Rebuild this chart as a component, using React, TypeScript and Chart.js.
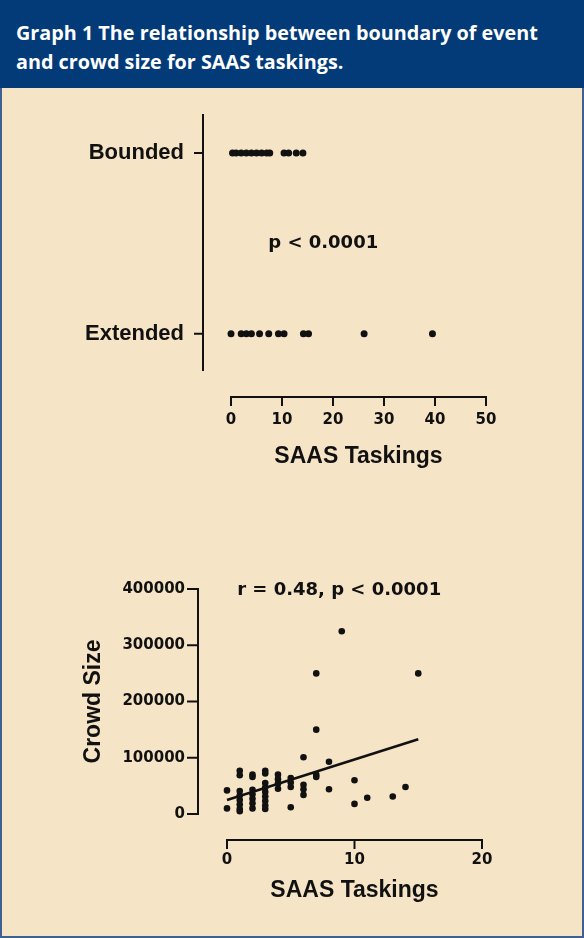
import React, { useEffect, useRef } from 'react';
import { Chart, registerables } from 'chart.js';

Chart.register(...registerables);

// ---------- data ----------
const HEADER_LINES = [
  'Graph 1 The relationship between boundary of event',
  'and crowd size for SAAS taskings.',
];

// top chart: y index 0 = Extended, 1 = Bounded
const CATEGORY_LABELS = ['Extended', 'Bounded'];
const BOUNDED_TASKINGS = [0.3, 1, 2, 3, 4, 5, 6, 7, 7.6, 10.4, 11.3, 12.8, 14.1];
const EXTENDED_TASKINGS = [0, 2, 3, 4, 5.6, 7.4, 9.3, 10.4, 14.2, 15.2, 26.1, 39.5];
const TOP_X_TICKS = [0, 10, 20, 30, 40, 50];
const TOP_ANNOTATION = 'p < 0.0001';

// bottom chart
const SCATTER_TASKINGS = [
  0, 0,
  1, 1, 1, 1, 1, 1, 1, 1,
  2, 2, 2, 2, 2, 2, 2,
  3, 3, 3, 3, 3, 3, 3, 3, 3,
  4, 4, 4, 4,
  5, 5, 5, 5,
  6, 6, 6, 6,
  7, 7, 7, 7,
  8, 8,
  9,
  10, 10,
  11,
  13,
  14,
  15,
];
const SCATTER_CROWD = [
  42000, 10000,
  77000, 69000, 41000, 33000, 25000, 17000, 9000, 5000,
  70000, 66000, 43000, 35000, 27000, 19000, 10000,
  77000, 72000, 55000, 47000, 39000, 31000, 23000, 15000, 9000,
  70000, 62000, 54000, 45000,
  64000, 56000, 48000, 12000,
  101000, 52000, 44000, 34000,
  250000, 150000, 70000, 66000,
  93000, 44000,
  325000,
  60000, 18000,
  29000,
  31000,
  48000,
  250000,
];
const REGRESSION_X = [0, 15];
const REGRESSION_Y = [25000, 133000];
const BOTTOM_X_TICKS = [0, 10, 20];
const BOTTOM_Y_TICKS = [0, 100000, 200000, 300000, 400000];
const BOTTOM_ANNOTATION = 'r = 0.48, p < 0.0001';

// ---------- styling ----------
const INK = '#111111';
const NAVY = '#033a78';
const BEIGE = '#f6e4c7';
const FRAME = '#3d6192';
const TICK_FONT = { family: '"DejaVu Sans"', weight: 'bold' as const, size: 15 };
const LABEL_FONT = { family: '"Liberation Sans", Arial', weight: 'bold' as const, size: 22 };
const TITLE_FONT = { family: '"Liberation Sans", Arial', weight: 'bold' as const, size: 23 };

// Prism-style detached axes drawn from the scales
const offsetAxes = {
  id: 'offsetAxes',
  afterDraw(chart: any, _args: any, opts: any) {
    const { ctx, chartArea, scales } = chart;
    const x = scales.x;
    const y = scales.y;
    ctx.save();
    ctx.strokeStyle = INK;
    ctx.lineWidth = 2;
    ctx.lineCap = 'square';
    const ax = chartArea.left - opts.yGap;
    ctx.beginPath();
    ctx.moveTo(ax, y.getPixelForValue(y.max));
    ctx.lineTo(ax, y.getPixelForValue(y.min));
    for (const t of y.ticks) {
      const py = y.getPixelForValue(t.value);
      ctx.moveTo(ax - opts.yTick, py);
      ctx.lineTo(ax, py);
    }
    ctx.stroke();
    const ay = chartArea.bottom + opts.xGap;
    ctx.beginPath();
    ctx.moveTo(x.getPixelForValue(x.min), ay);
    ctx.lineTo(x.getPixelForValue(x.max), ay);
    for (const t of x.ticks) {
      const px = x.getPixelForValue(t.value);
      ctx.moveTo(px, ay);
      ctx.lineTo(px, ay + opts.xTick);
    }
    ctx.stroke();
    ctx.restore();
  },
};

const annotation = {
  id: 'annotation',
  afterDatasetsDraw(chart: any, _args: any, opts: any) {
    const { ctx, scales } = chart;
    ctx.save();
    ctx.font = opts.font;
    ctx.fillStyle = INK;
    ctx.textAlign = 'left';
    ctx.textBaseline = 'middle';
    ctx.fillText(opts.text, scales.x.getPixelForValue(opts.x), scales.y.getPixelForValue(opts.y));
    ctx.restore();
  },
};

function ChartCanvas({ config, top, height }: { config: () => any; top: number; height: number }) {
  const ref = useRef<HTMLCanvasElement | null>(null);
  useEffect(() => {
    if (!ref.current) return;
    const chart = new Chart(ref.current, config());
    return () => chart.destroy();
  }, []);
  return (
    <canvas
      ref={ref}
      width={584}
      height={height}
      style={{ position: 'absolute', left: 0, top, width: 584, height }}
    />
  );
}

const pointStyle = {
  showLine: false,
  pointRadius: 3.5,
  pointHoverRadius: 3.5,
  pointBackgroundColor: INK,
  pointBorderWidth: 0,
  clip: false as const,
};

const fixWidth = (w: number) => (s: any) => {
  s.width = w;
  s.paddingTop = 0;
  s.paddingBottom = 0;
};
const fixHeight = (h: number) => (s: any) => {
  s.height = h;
  s.paddingLeft = 0;
  s.paddingRight = 0;
};

function topConfig() {
  return {
    type: 'scatter',
    data: {
      datasets: [
        { ...pointStyle, data: BOUNDED_TASKINGS.map((v) => ({ x: v, y: 1 })) },
        { ...pointStyle, data: EXTENDED_TASKINGS.map((v) => ({ x: v, y: 0 })) },
      ],
    },
    plugins: [offsetAxes, annotation],
    options: {
      responsive: false,
      animation: false,
      devicePixelRatio: 1,
      events: [],
      layout: { padding: { left: 0, right: 98, top: 27, bottom: 18 } },
      plugins: {
        legend: { display: false },
        tooltip: { enabled: false },
        offsetAxes: { yGap: 28, yTick: 8, xGap: 27, xTick: 8 },
        annotation: { text: TOP_ANNOTATION, x: 7.3, y: 0.5, font: 'bold 18px "DejaVu Sans"' },
      },
      scales: {
        x: {
          type: 'linear',
          min: 0,
          max: 50,
          afterBuildTicks: (s: any) => {
            s.ticks = TOP_X_TICKS.map((v) => ({ value: v }));
          },
          grid: { display: false, drawTicks: false },
          border: { display: false },
          ticks: { padding: 41, font: TICK_FONT, color: INK, autoSkip: false, maxRotation: 0 },
          title: { display: true, text: 'SAAS Taskings', font: TITLE_FONT, color: INK, padding: { top: 0, bottom: 0 } },
          afterFit: fixHeight(100),
        },
        y: {
          type: 'linear',
          min: -0.2,
          max: 1.21,
          afterBuildTicks: (s: any) => {
            s.ticks = CATEGORY_LABELS.map((_, i) => ({ value: i }));
          },
          grid: { display: false, drawTicks: false },
          border: { display: false },
          ticks: {
            padding: 47,
            font: LABEL_FONT,
            color: INK,
            autoSkip: false,
            callback: (v: number) => CATEGORY_LABELS[v],
          },
          afterFit: fixWidth(231),
        },
      },
    },
  };
}

function bottomConfig() {
  return {
    type: 'scatter',
    data: {
      datasets: [
        {
          ...pointStyle,
          pointRadius: 3.3,
          data: SCATTER_TASKINGS.map((x, i) => ({ x, y: SCATTER_CROWD[i] })),
        },
        {
          type: 'line',
          data: REGRESSION_X.map((x, i) => ({ x, y: REGRESSION_Y[i] })),
          showLine: true,
          borderColor: INK,
          borderWidth: 2.5,
          pointRadius: 0,
          fill: false,
          clip: false,
        },
      ],
    },
    plugins: [offsetAxes, annotation],
    options: {
      responsive: false,
      animation: false,
      devicePixelRatio: 1,
      events: [],
      layout: { padding: { left: 0, right: 102, top: 29, bottom: 26 } },
      plugins: {
        legend: { display: false },
        tooltip: { enabled: false },
        offsetAxes: { yGap: 29, yTick: 10, xGap: 26, xTick: 8 },
        annotation: { text: BOTTOM_ANNOTATION, x: 0.8, y: 398000, font: 'bold 18px "DejaVu Sans"' },
      },
      scales: {
        x: {
          type: 'linear',
          min: 0,
          max: 20,
          afterBuildTicks: (s: any) => {
            s.ticks = BOTTOM_X_TICKS.map((v) => ({ value: v }));
          },
          grid: { display: false, drawTicks: false },
          border: { display: false },
          ticks: { padding: 37, font: TICK_FONT, color: INK, autoSkip: false, maxRotation: 0 },
          title: { display: true, text: 'SAAS Taskings', font: TITLE_FONT, color: INK, padding: { top: 0, bottom: 0 } },
          afterFit: fixHeight(90),
        },
        y: {
          type: 'linear',
          min: 0,
          max: 400000,
          afterBuildTicks: (s: any) => {
            s.ticks = BOTTOM_Y_TICKS.map((v) => ({ value: v }));
          },
          grid: { display: false, drawTicks: false },
          border: { display: false },
          ticks: {
            padding: 42,
            font: TICK_FONT,
            color: INK,
            autoSkip: false,
            callback: (v: number) => String(v),
          },
          title: { display: true, text: 'Crowd Size', font: TITLE_FONT, color: INK, padding: { top: 80, bottom: 0 } },
          afterFit: fixWidth(227),
        },
      },
    },
  };
}

export default function App() {
  return (
    <div
      style={{
        position: 'absolute',
        left: 0,
        top: 0,
        width: 584,
        height: 938,
        background: FRAME,
        overflow: 'hidden',
      }}
    >
      <div
        style={{
          position: 'absolute',
          left: 2,
          top: 0,
          width: 580,
          height: 936,
          background: BEIGE,
        }}
      />
      <div
        style={{
          position: 'absolute',
          left: 0,
          top: 0,
          width: 584,
          height: 88,
          background: NAVY,
          color: '#ffffff',
          fontFamily: '"Open Sans", "Noto Sans", sans-serif',
          fontWeight: 700,
          fontSize: 19.8,
          lineHeight: '29px',
          padding: '18px 0 0 16px',
          boxSizing: 'border-box',
        }}
      >
        {HEADER_LINES.map((l) => (
          <div key={l} style={{ whiteSpace: 'nowrap' }}>
            {l}
          </div>
        ))}
      </div>
      <ChartCanvas config={topConfig} top={88} height={400} />
      <ChartCanvas config={bottomConfig} top={560} height={370} />
    </div>
  );
}
